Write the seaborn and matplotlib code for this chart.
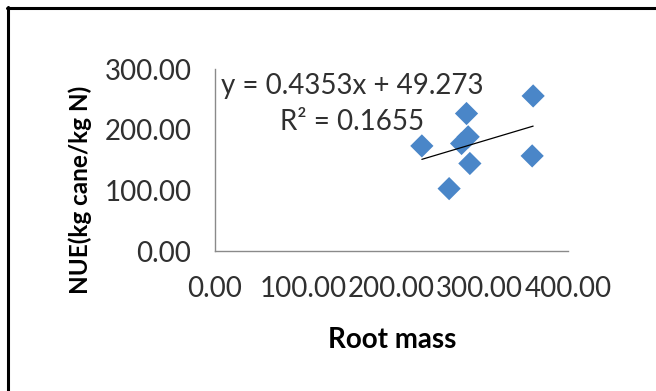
import numpy as np
import pandas as pd
import matplotlib
matplotlib.use("Agg")
import matplotlib.pyplot as plt
from matplotlib.lines import Line2D
from matplotlib.ticker import FormatStrFormatter
import seaborn as sns

# Root mass vs nitrogen use efficiency
root_mass = [234.4, 265.3, 285.0, 286.9, 279.4, 288.8, 360.5, 359.4]
nue = [173.5, 103.0, 227.0, 188.5, 177.5, 144.5, 256.0, 157.0]

# Linear trendline as reported
slope = 0.4353
intercept = 49.273
r_squared = 0.1655

x_ticks = [0, 100, 200, 300, 400]
y_ticks = [0, 100, 200, 300]

sns.set_style("white")
plt.rcParams["font.family"] = ["Lato", "DejaVu Sans"]

W, H = 656, 391
fig = plt.figure(figsize=(W / 100, H / 100), dpi=100)
ax = fig.add_axes([215 / W, 1 - 251 / H, 353 / W, 181.7 / H])

df = pd.DataFrame({"Root mass": root_mass, "NUE": nue})
sns.scatterplot(data=df, x="Root mass", y="NUE", marker="D", s=140,
                color="#4A86C8", edgecolor="none", ax=ax, zorder=3,
                clip_on=False)

# trendline over the range of the data
xs = np.array([min(root_mass), max(root_mass)])
sns.lineplot(x=xs, y=slope * xs + intercept, color="black", linewidth=0.9,
             ax=ax, zorder=4)

ax.set_xlim(x_ticks[0], x_ticks[-1])
ax.set_ylim(y_ticks[0], y_ticks[-1])
ax.set_xticks(x_ticks)
ax.set_yticks(y_ticks)
ax.xaxis.set_major_formatter(FormatStrFormatter("%.2f"))
ax.yaxis.set_major_formatter(FormatStrFormatter("%.2f"))

for side in ("top", "right"):
    ax.spines[side].set_visible(False)
for side in ("left", "bottom"):
    ax.spines[side].set_color("#8a8a8a")
    ax.spines[side].set_linewidth(1.0)

ax.tick_params(axis="both", direction="out", length=7, width=1,
               color="#8a8a8a", labelsize=20, labelcolor="#303030")
ax.tick_params(axis="y", pad=10)
ax.tick_params(axis="x", pad=11)
ax.set_xlabel("")
ax.set_ylabel("")

# trendline equation
ax.text(155, 272, f"y = {slope}x + {intercept}", ha="center", va="center",
        fontsize=20, color="#303030")
ax.text(155, 213, f"R² = {r_squared}", ha="center", va="center",
        fontsize=20, color="#303030")

# axis titles
fig.text(392 / W, 1 - 348 / H, "Root mass", ha="center", va="baseline",
         fontsize=20, fontweight="bold", color="black")
fig.text(88 / W, 1 - 190 / H, "NUE(kg cane/kg N)", ha="center",
         va="baseline", rotation=90, rotation_mode="anchor",
         fontsize=17.5, fontweight="bold", color="black")

# frame lines
fig.add_artist(Line2D([7 / W, 1], [1 - 8 / H, 1 - 8 / H], color="black",
                      linewidth=2.2, transform=fig.transFigure))
fig.add_artist(Line2D([8 / W, 8 / W], [0, 1 - 7 / H], color="black",
                      linewidth=2.2, transform=fig.transFigure))

fig.savefig("out.png", dpi=100, facecolor="white")
